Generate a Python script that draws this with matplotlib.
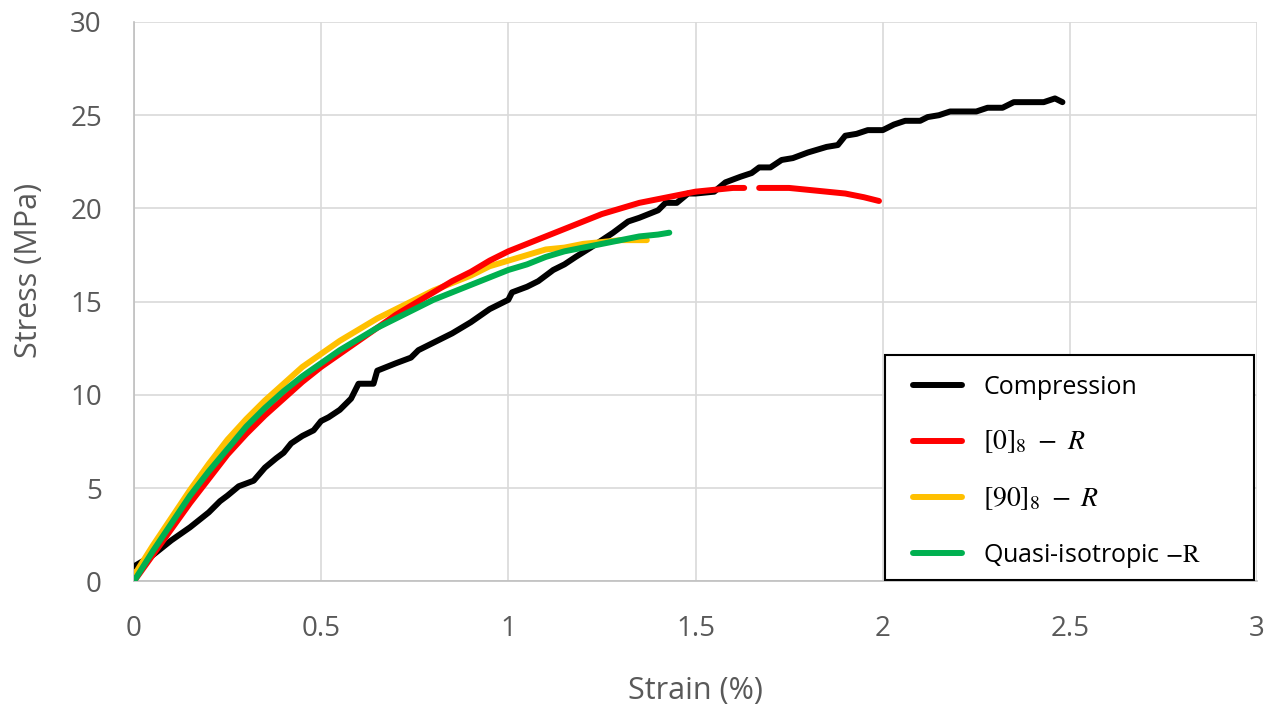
import matplotlib
matplotlib.use("Agg")
import matplotlib.pyplot as plt
from matplotlib.patches import Rectangle

plt.rcParams["font.family"] = ["Open Sans", "DejaVu Sans"]
plt.rcParams["mathtext.fontset"] = "stix"

# Stress-strain curves (strain in %, stress in MPa)
comp_strain = [0.00, 0.05, 0.10, 0.15, 0.20, 0.23, 0.25, 0.28, 0.32, 0.35, 0.38, 0.40, 0.42,
               0.45, 0.48, 0.50, 0.52, 0.55, 0.58, 0.60, 0.61, 0.64, 0.65, 0.70, 0.74,
               0.76, 0.80, 0.85, 0.90, 0.95, 0.98, 1.00, 1.01, 1.05, 1.08, 1.12, 1.15,
               1.18, 1.22, 1.25, 1.28, 1.32, 1.35, 1.40, 1.42, 1.45, 1.48, 1.50, 1.55,
               1.58, 1.62, 1.65, 1.67, 1.70, 1.73, 1.76, 1.80, 1.85, 1.88, 1.90, 1.93,
               1.96, 2.00, 2.03, 2.06, 2.10, 2.12, 2.15, 2.18, 2.22, 2.25, 2.28, 2.32,
               2.35, 2.40, 2.43, 2.46, 2.48]
comp_stress = [0.8, 1.4, 2.2, 2.9, 3.7, 4.3, 4.6, 5.1, 5.4, 6.1, 6.6, 6.9, 7.4,
               7.8, 8.1, 8.6, 8.8, 9.2, 9.8, 10.6, 10.6, 10.6, 11.3, 11.7, 12.0,
               12.4, 12.8, 13.3, 13.9, 14.6, 14.9, 15.1, 15.5, 15.8, 16.1, 16.7, 17.0,
               17.4, 17.9, 18.3, 18.7, 19.3, 19.5, 19.9, 20.3, 20.3, 20.8, 20.8, 20.9,
               21.4, 21.7, 21.9, 22.2, 22.2, 22.6, 22.7, 23.0, 23.3, 23.4, 23.9, 24.0,
               24.2, 24.2, 24.5, 24.7, 24.7, 24.9, 25.0, 25.2, 25.2, 25.2, 25.4, 25.4,
               25.7, 25.7, 25.7, 25.9, 25.7]

r0_strain_a = [0.00, 0.05, 0.10, 0.15, 0.20, 0.25, 0.30, 0.35, 0.40, 0.45, 0.50, 0.55,
               0.60, 0.65, 0.70, 0.75, 0.80, 0.85, 0.90, 0.95, 1.00, 1.05, 1.10, 1.15,
               1.20, 1.25, 1.30, 1.35, 1.40, 1.45, 1.50, 1.55, 1.60, 1.63]
r0_stress_a = [0.0, 1.4, 2.8, 4.2, 5.5, 6.8, 7.9, 8.9, 9.8, 10.7, 11.5, 12.2,
               12.9, 13.6, 14.3, 14.9, 15.5, 16.1, 16.6, 17.2, 17.7, 18.1, 18.5, 18.9,
               19.3, 19.7, 20.0, 20.3, 20.5, 20.7, 20.9, 21.0, 21.1, 21.1]
r0_strain_b = [1.67, 1.70, 1.75, 1.80, 1.85, 1.90, 1.95, 1.99]
r0_stress_b = [21.1, 21.1, 21.1, 21.0, 20.9, 20.8, 20.6, 20.4]

r90_strain = [0.00, 0.05, 0.10, 0.15, 0.20, 0.25, 0.30, 0.35, 0.40, 0.45, 0.50, 0.55,
              0.60, 0.65, 0.70, 0.75, 0.80, 0.85, 0.90, 0.95, 1.00, 1.05, 1.10, 1.15,
              1.20, 1.25, 1.30, 1.37]
r90_stress = [0.3, 1.9, 3.4, 4.9, 6.3, 7.6, 8.7, 9.7, 10.6, 11.5, 12.2, 12.9,
              13.5, 14.1, 14.6, 15.1, 15.6, 16.0, 16.4, 16.9, 17.2, 17.5, 17.8, 17.9,
              18.1, 18.2, 18.3, 18.3]

qi_strain = [0.00, 0.05, 0.10, 0.15, 0.20, 0.25, 0.30, 0.35, 0.40, 0.45, 0.50, 0.55,
             0.60, 0.65, 0.70, 0.75, 0.80, 0.85, 0.90, 0.95, 1.00, 1.05, 1.10, 1.15,
             1.20, 1.25, 1.30, 1.35, 1.40, 1.43]
qi_stress = [0.0, 1.6, 3.1, 4.6, 5.9, 7.1, 8.3, 9.3, 10.2, 11.0, 11.7, 12.4,
             13.0, 13.6, 14.1, 14.6, 15.1, 15.5, 15.9, 16.3, 16.7, 17.0, 17.4, 17.7,
             17.9, 18.1, 18.3, 18.5, 18.6, 18.7]

x_ticks = [0, 0.5, 1, 1.5, 2, 2.5, 3]
x_labels = ["0", "0.5", "1", "1.5", "2", "2.5", "3"]
y_ticks = [0, 5, 10, 15, 20, 25, 30]

fig = plt.figure(figsize=(12.75, 7.09), dpi=100)
ax = fig.add_axes([0.105, 0.180, 0.881, 0.789])

lw = 4.3
style = dict(lw=lw, solid_capstyle="round", solid_joinstyle="round")
ax.plot(comp_strain, comp_stress, color="black", label="Compression", zorder=3, **style)
ax.plot(r90_strain, r90_stress, color="#ffc000", zorder=4, **style)
ax.plot(r0_strain_a, r0_stress_a, color="#ff0000", label=r"$[0]_8\ -\ R$", zorder=5, **style)
ax.plot(r0_strain_b, r0_stress_b, color="#ff0000", zorder=5, **style)
ax.plot([], [], color="#ffc000", label=r"$[90]_8\ -\ R$", **style)
ax.plot(qi_strain, qi_stress, color="#00b050", label=r"Quasi-isotropic $-\mathrm{R}$",
        zorder=6, **style)

ax.set_xlim(0, 3)
ax.set_ylim(0, 30)
ax.set_xticks(x_ticks)
ax.set_xticklabels(x_labels)
ax.set_yticks(y_ticks)
ax.grid(True, color="#d9d9d9", lw=1.2)
ax.set_axisbelow(True)
for s in ax.spines.values():
    s.set_visible(False)
for side in ("left", "bottom"):
    ax.spines[side].set_visible(True)
    ax.spines[side].set_color("#bfbfbf")
    ax.spines[side].set_linewidth(1.2)
ax.tick_params(axis="both", length=0, labelsize=20, labelcolor="#595959")
ax.tick_params(axis="y", pad=23)
ax.tick_params(axis="x", pad=24)

ax.set_xlabel("Strain (%)", fontsize=22, color="#595959")
ax.set_ylabel("Stress (MPa)", fontsize=22, color="#595959")
ax.xaxis.set_label_coords(0.5, -0.170)
ax.yaxis.set_label_coords(-0.080, 0.555)

# Legend box drawn as its own white panel with a black border
frame = Rectangle((0.6687, 0.002), 0.3286, 0.402, transform=ax.transAxes,
                  facecolor="white", edgecolor="black", lw=1.5, zorder=9)
ax.add_patch(frame)
leg = ax.legend(loc="center left", bbox_to_anchor=(0.6937, 0.195), fontsize=18,
                frameon=False, borderpad=0.0, labelspacing=1.15, handlelength=1.95,
                handletextpad=0.85, borderaxespad=0.0)
leg.set_zorder(10)
for t in leg.get_texts()[1:3]:
    t.set_fontsize(20)

fig.savefig("out.png", dpi=100)
